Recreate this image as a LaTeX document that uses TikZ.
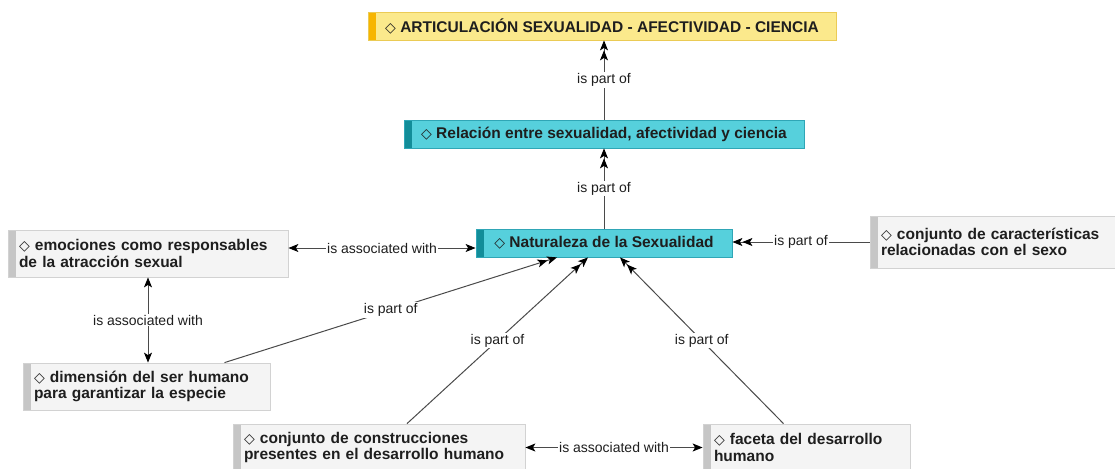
\documentclass[tikz,border=0pt]{standalone}
\usepackage{fontspec}
\setmainfont{Liberation Sans}
\newfontfamily\symfont{DejaVu Sans}
\usetikzlibrary{arrows.meta}
\definecolor{accent}{HTML}{4A4A4A}
\definecolor{ink}{HTML}{1E1E1E}
\definecolor{sunfill}{HTML}{FBE98C}
\definecolor{sundraw}{HTML}{EBCB55}
\definecolor{sunbar}{HTML}{F7B500}
\definecolor{seafill}{HTML}{56D0DC}
\definecolor{seadraw}{HTML}{2FA6B6}
\definecolor{seabar}{HTML}{128D99}
\definecolor{notefill}{HTML}{F4F4F4}
\definecolor{notedraw}{HTML}{D2D2D2}
\definecolor{notebar}{HTML}{C6C6C6}
\newcommand{\dmd}{{\symfont\mdseries\fontsize{14}{14}\selectfont ◇}\ }

\begin{document}
\begin{tikzpicture}[
  x=1pt, y=-1pt,
  card/.style 2 args = {rectangle, draw=#1, fill=#2, line width=0.8pt, text=ink,
    font=\bfseries\fontsize{15.5}{16.5}\selectfont},
  stripe/.style = {path picture={\fill[#1] (path picture bounding box.south west)
    rectangle ([xshift=8pt]path picture bounding box.north west);}},
  topic/.style = {card={seadraw}{seafill}, stripe=seabar, inner sep=0pt,
    minimum height=28pt, minimum width=#1},
  note/.style = {card={notedraw}{notefill}, stripe=notebar, align=left,
    inner xsep=11pt, inner ysep=0pt, minimum height=47pt, text width=#1},
  linktext/.style = {fill=white, text=ink, inner sep=1pt, font=\fontsize{14}{14}\selectfont},
  >={Stealth[length=10pt,width=8pt,inset=2.5pt,color=black]},
  partof/.style = {line width=1pt, color=accent, -{>>}},
  assoc/.style = {line width=1pt, color=accent, <->},
]

  \useasboundingbox (0,0) rectangle (1115,468);

  % concepts
  \node[card={sundraw}{sunfill}, stripe=sunbar, inner sep=0pt,
        minimum height=28pt, minimum width=468pt] (art) at (602,26)
        {\dmd ARTICULACIÓN SEXUALIDAD - AFECTIVIDAD - CIENCIA};
  \node[topic=400pt] (rel) at (604,134) {\dmd Relación entre sexualidad, afectividad y ciencia};
  \node[topic=256pt] (nat) at (604,243) {\dmd Naturaleza de la Sexualidad};

  \node[note=258pt] (emo) at (148,253.5) {\dmd emociones como responsables\\de la atracción sexual};
  \node[note=232pt, minimum height=52pt] (car) at (997,242) {\dmd conjunto de características\\relacionadas con el sexo};
  \node[note=225pt] (dim) at (146.5,386.5) {\dmd dimensión del ser humano\\para garantizar la especie};
  \node[note=270pt] (con) at (379,447.5) {\dmd conjunto de construcciones\\presentes en el desarrollo humano};
  \node[note=185pt] (fac) at (806.5,447.5) {\dmd faceta del desarrollo\\humano};

  % links
  \draw[partof] (rel.north) -- (rel.north |- art.south)
    node[linktext, midway] {is part of};
  \draw[partof] (nat.north) -- (nat.north |- rel.south)
    node[linktext, midway] {is part of};
  \draw[partof] (car.west) -- (nat.east |- car.west)
    node[linktext, midway] {is part of};
  \draw[assoc] ([yshift=5.5pt]emo.east) -- ([yshift=-5pt]nat.west)
    node[linktext, midway] {is associated with};
  \draw[assoc] (emo.south) -- (emo.south |- dim.north)
    node[linktext, midway] {is associated with};
  \draw[assoc] (con.east) -- (fac.west)
    node[linktext, midway] {is associated with};

  \draw[partof] ([xshift=78pt]dim.north) -- ([xshift=-47pt]nat.south)
    node[linktext, midway] {is part of};
  \draw[partof] ([xshift=28pt]con.north) -- ([xshift=-16pt]nat.south)
    node[linktext, midway] {is part of};
  \draw[partof] ([xshift=-23pt]fac.north) -- ([xshift=16pt]nat.south)
    node[linktext, midway] {is part of};

\end{tikzpicture}
\end{document}
